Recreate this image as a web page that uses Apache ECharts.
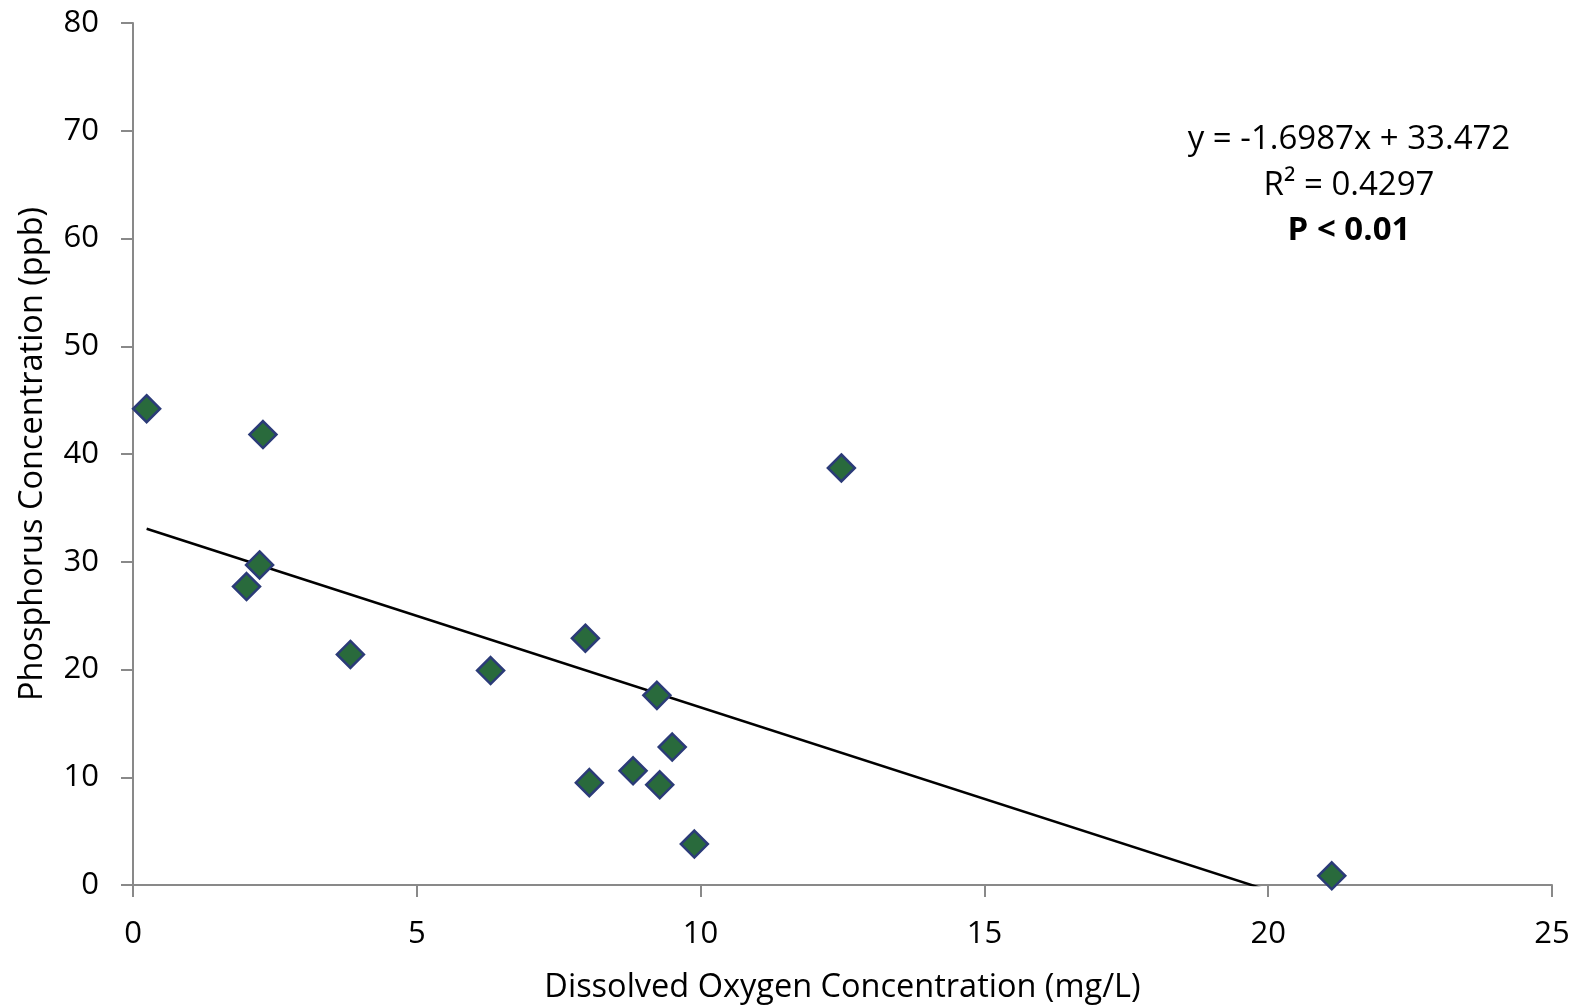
<!DOCTYPE html>
<html>
<head>
<meta charset="utf-8">
<script src="https://cdn.jsdelivr.net/npm/echarts@6/dist/echarts.min.js"></script>
<style>
  html, body { margin: 0; padding: 0; background: #fff; }
  #chart { width: 1581px; height: 1008px; }
</style>
</head>
<body>
<div id="chart"></div>
<script>
// Dissolved oxygen (mg/L) vs. phosphorus (ppb) at each sampling site
const dissolvedOxygen = [0.24, 2.29, 12.48, 2.23, 2.00, 3.83, 6.30, 7.97, 9.23, 9.50, 8.81, 8.04, 9.28, 9.89, 21.12];
const phosphorus      = [44.2, 41.8, 38.7, 29.7, 27.7, 21.4, 19.9, 22.9, 17.6, 12.8, 10.6, 9.5, 9.3, 3.8, 0.85];

// Linear fit reported for the data
const slope = -1.6987;
const intercept = 33.472;
const fitLabel = ['y = -1.6987x + 33.472', 'R² = 0.4297', 'P < 0.01'];

const xTicks = [0, 5, 10, 15, 20, 25];
const yTicks = [0, 10, 20, 30, 40, 50, 60, 70, 80];

const points = dissolvedOxygen.map((x, i) => [x, phosphorus[i]]);
const xMin = Math.min(...dissolvedOxygen);
const xMax = Math.max(...dissolvedOxygen);
const fitLine = [[xMin, slope * xMin + intercept], [xMax, slope * xMax + intercept]];

const FONT = '"Open Sans", sans-serif';
const axisGray = '#898989';

const chart = echarts.init(document.getElementById('chart'), null, { renderer: 'canvas' });
chart.setOption({
  animation: false,
  backgroundColor: '#ffffff',
  grid: { left: 133, right: 29, top: 23, bottom: 123, containLabel: false, outerBoundsMode: 'none' },
  xAxis: {
    type: 'value',
    min: xTicks[0], max: xTicks[xTicks.length - 1], interval: 5,
    name: 'Dissolved Oxygen Concentration (mg/L)',
    nameLocation: 'middle', nameGap: 86,
    nameTextStyle: { fontFamily: FONT, fontSize: 32.5, color: '#000' },
    axisLine: { show: true, lineStyle: { color: axisGray, width: 2 } },
    axisTick: { show: true, inside: false, length: 12, lineStyle: { color: axisGray, width: 2 } },
    axisLabel: { fontFamily: FONT, fontSize: 31, color: '#000', margin: 34 },
    splitLine: { show: false }
  },
  yAxis: {
    type: 'value',
    min: yTicks[0], max: yTicks[yTicks.length - 1], interval: 10,
    name: 'Phosphorus Concentration (ppb)',
    nameLocation: 'middle', nameGap: 84, nameRotate: 90,
    nameTextStyle: { fontFamily: FONT, fontSize: 32.5, color: '#000' },
    axisLine: { show: true, lineStyle: { color: axisGray, width: 2 } },
    axisTick: { show: true, inside: false, length: 12, lineStyle: { color: axisGray, width: 2 } },
    axisLabel: { fontFamily: FONT, fontSize: 31, color: '#000', margin: 34 },
    splitLine: { show: false }
  },
  series: [
    {
      type: 'line',
      data: fitLine,
      showSymbol: false,
      symbol: 'none',
      clip: true,
      lineStyle: { color: '#000', width: 2.5 },
      z: 2
    },
    {
      type: 'scatter',
      data: points,
      symbol: 'diamond',
      symbolSize: 27,
      itemStyle: { color: '#296a3c', borderColor: '#2b3b78', borderWidth: 2.5, opacity: 1 },
      z: 3
    }
  ],
  graphic: [
    {
      type: 'text',
      x: 1349, y: 117,
      style: {
        text: fitLabel[0] + '\n' + fitLabel[1] + '\n{b|' + fitLabel[2] + '}',
        align: 'center',
        verticalAlign: 'top',
        fontFamily: FONT, fontSize: 33, lineHeight: 45.5, fill: '#000',
        rich: { b: { fontFamily: FONT, fontSize: 33, fontWeight: 'bold', lineHeight: 45.5 } }
      }
    }
  ]
});
</script>
</body>
</html>
